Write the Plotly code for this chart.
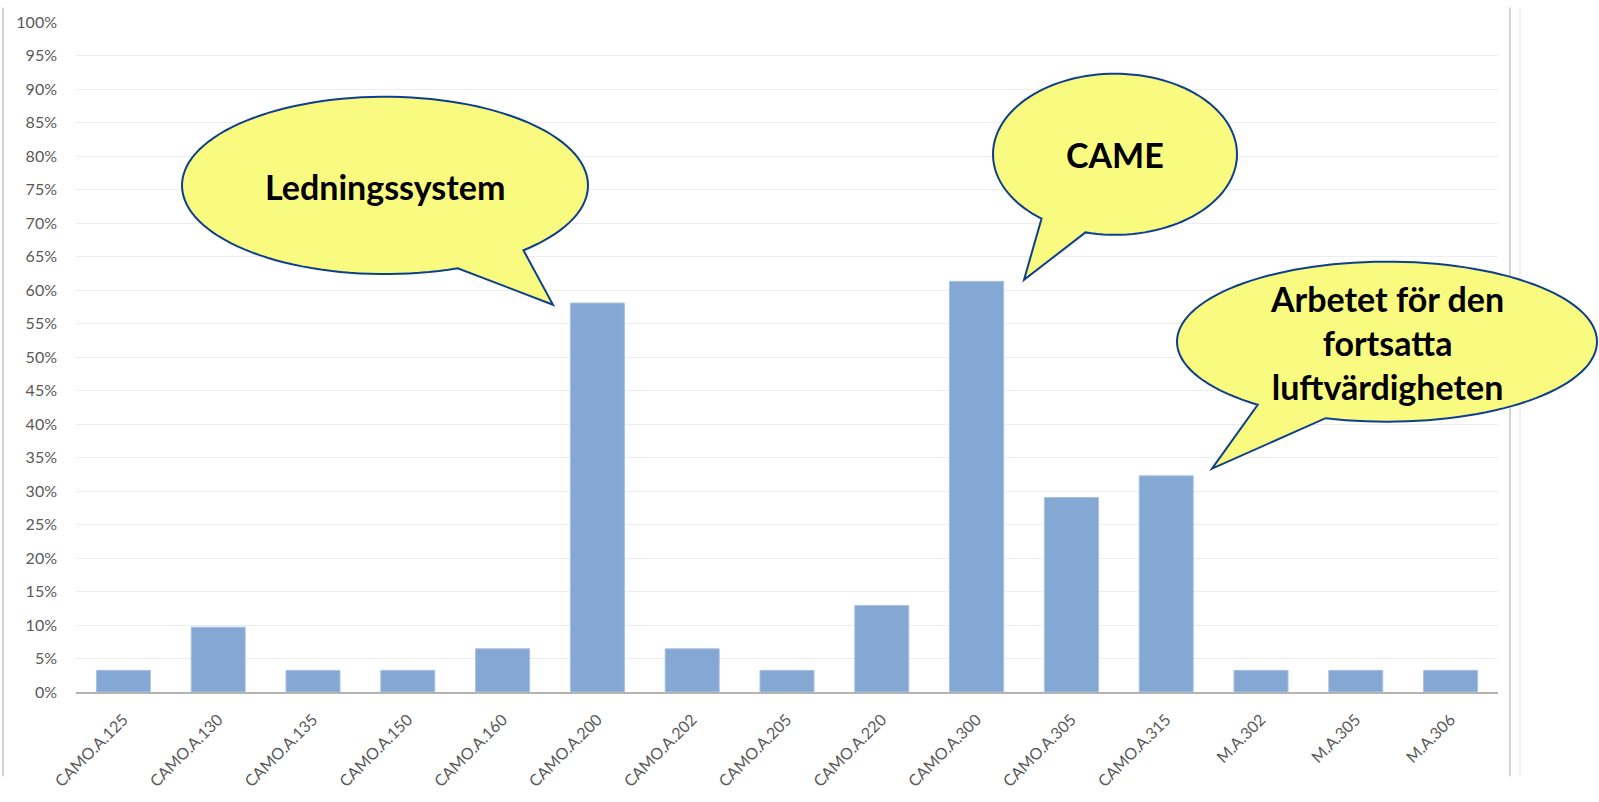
import math
import plotly.graph_objects as go

categories = ["CAMO.A.125", "CAMO.A.130", "CAMO.A.135", "CAMO.A.150", "CAMO.A.160",
              "CAMO.A.200", "CAMO.A.202", "CAMO.A.205", "CAMO.A.220", "CAMO.A.300",
              "CAMO.A.305", "CAMO.A.315", "M.A.302", "M.A.305", "M.A.306"]
values = [0.0323, 0.0968, 0.0323, 0.0323, 0.0645,
          0.5806, 0.0645, 0.0323, 0.1290, 0.6129,
          0.2903, 0.3226, 0.0323, 0.0323, 0.0323]
callout_texts = ["Ledningssystem", "CAME", "Arbetet för den<br>fortsatta<br>luftvärdigheten"]

W, H = 1599, 802
L, R, T, B = 76, 1498, 15, 714  # plot area in pixels


def px2paper(px, py):
    return (px - L) / (R - L), (B - py) / (B - T)


def bubble_path(cx, cy, rx, ry, a_start, a_end, tip):
    if a_end < a_start:
        a_end += 360
    n = 120
    pts = []
    for i in range(n + 1):
        a = math.radians(a_start + (a_end - a_start) * i / n)
        pts.append((cx + rx * math.cos(a), cy + ry * math.sin(a)))
    pts.append(tip)
    pp = [px2paper(x, y) for x, y in pts]
    return "M " + " L ".join(f"{x:.5f},{y:.5f}" for x, y in pp) + " Z"


fig = go.Figure()
fig.add_trace(go.Bar(
    x=categories, y=values,
    marker=dict(color="#84a8d3", line=dict(color="#a9c2e2", width=1)),
    width=0.57,
))

bubbles = [
    dict(cx=385, cy=185.5, rx=203, ry=92.5, a0=69, a1=47, tip=(553, 310), text=callout_texts[0], ty=187),
    dict(cx=1115, cy=153, rx=122, ry=84, a0=127, a1=104, tip=(1024, 284), text=callout_texts[1], ty=153),
    dict(cx=1387, cy=348.5, rx=210, ry=83.5, a0=128, a1=107, tip=(1212, 481), text=callout_texts[2], ty=349),
]

shapes = []
for xpix, col in [(3, "#d4d4d4"), (1510, "#d4d4d4"), (1520, "#f0f0f0")]:
    xp = px2paper(xpix, 0)[0]
    shapes.append(dict(type="line", xref="paper", yref="paper",
                       x0=xp, x1=xp, y0=px2paper(0, 0)[1], y1=px2paper(0, H)[1],
                       line=dict(color=col, width=2), layer="below"))

annotations = []
for b in bubbles:
    shapes.append(dict(type="path", xref="paper", yref="paper",
                       path=bubble_path(b["cx"], b["cy"], b["rx"], b["ry"], b["a0"], b["a1"], b["tip"]),
                       fillcolor="#f8fb80", line=dict(color="#0e3f8c", width=2), layer="above"))
    ax, ay = px2paper(b["cx"], b["ty"])
    annotations.append(dict(xref="paper", yref="paper", x=ax, y=ay, text=f"<b>{b['text']}</b>",
                            showarrow=False, xanchor="center", yanchor="middle",
                            font=dict(family="Lato", size=34, color="#000000"),
                            align="center"))

fig.update_layout(
    width=W, height=H,
    margin=dict(l=L, r=W - R, t=T, b=H - B, pad=0),
    paper_bgcolor="white", plot_bgcolor="white",
    showlegend=False,
    shapes=shapes,
    annotations=annotations,
    font=dict(family="Lato", color="#595959", size=16),
    xaxis=dict(tickangle=-45, showgrid=False, showline=True, linecolor="#b3b3b3", linewidth=2,
               tickfont=dict(size=16, color="#595959"), ticks="", ticklabelstandoff=10,
               range=[-0.5, len(categories) - 0.5]),
    yaxis=dict(range=[0, 1], dtick=0.05, tickformat=".0%", showgrid=True, gridcolor="#ededed",
               gridwidth=1, zeroline=False, showline=False, ticks="",
               tickfont=dict(size=16, color="#595959"), ticklabelstandoff=18),
)

fig.write_html("out.html", config={"displayModeBar": False},
               post_script="document.body.style.margin='0';document.body.style.overflow='hidden';")
